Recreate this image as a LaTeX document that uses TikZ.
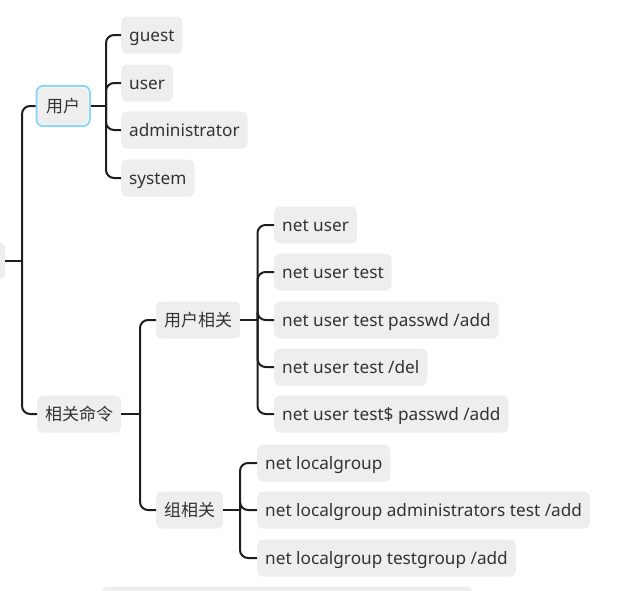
\documentclass[tikz,border=0pt]{standalone}
\usepackage{fontspec}
\setmainfont{Noto Sans}
\newfontfamily\cjk{Noto Sans CJK SC}
\usetikzlibrary{fit}
\definecolor{boxgray}{HTML}{EEEEEE}
\definecolor{linecol}{HTML}{1E1E1E}
\definecolor{txtcol}{HTML}{333333}
\definecolor{selblue}{HTML}{8ED5F8}
\tikzset{
  topic/.style={fill=boxgray, rounded corners=6pt, anchor=west, inner xsep=8pt, inner ysep=0pt,
    minimum height=37pt, text height=16pt, text depth=3pt, text=txtcol, font=\fontsize{17.2}{20}\selectfont},
  cjktopic/.style={topic, font=\cjk\fontsize{17}{20}\selectfont},
  conn/.style={draw=linecol, line width=2pt},
  branch/.style={conn, rounded corners=8pt},
}
\begin{document}
\begin{tikzpicture}[x=1pt,y=-1pt]
\useasboundingbox (0,0) rectangle (635,590);
% partially visible nodes at the edges
\node[topic, minimum width=80pt] (root) at (-75,261) {};
\node[topic, minimum width=370pt] (cut) at (102,605) {};
% level 1
\node[cjktopic] (yonghu) at (38,106) {用户};
\node[fit=(yonghu), inner sep=1.5pt, draw=selblue, line width=2pt, rounded corners=7pt] (yonghusel) {};
\node[cjktopic] (xgml) at (37,414) {相关命令};
% users
\node[topic] (guest) at (121,35) {guest};
\node[topic] (user) at (121,83) {user};
\node[topic] (admin) at (121,130) {administrator};
\node[topic] (system) at (121,178) {system};
% command groups
\node[cjktopic] (yhxg) at (156,320) {用户相关};
\node[cjktopic] (zxg) at (156,510) {组相关};
\node[topic] (c1) at (274,225) {net user};
\node[topic] (c2) at (274,272) {net user test};
\node[topic] (c3) at (274,320) {net user test passwd /add};
\node[topic] (c4) at (274,367) {net user test /del};
\node[topic] (c5) at (274,414) {net user test\$ passwd /add};
\node[topic] (g1) at (257,463) {net localgroup};
\node[topic] (g2) at (257,510) {net localgroup administrators test /add};
\node[topic] (g3) at (257,558) {net localgroup testgroup /add};
% junctions
\coordinate (t0) at (22,261);
\coordinate (t1) at (106,106);
\coordinate (t2) at (140,414);
\coordinate (t3) at (257.5,320);
\coordinate (t4) at (240,510);
% connectors
\draw[conn] (root.east) -- (t0);
\draw[branch] (t0) |- (yonghusel.west);
\draw[branch] (t0) |- (xgml.west);
\draw[conn] (yonghusel.east) -- (t1);
\foreach \n in {guest,user,admin,system} \draw[branch] (t1) |- (\n.west);
\draw[conn] (xgml.east) -- (t2);
\draw[branch] (t2) |- (yhxg.west);
\draw[branch] (t2) |- (zxg.west);
\draw[conn] (yhxg.east) -- (t3);
\foreach \n in {c1,c2,c3,c4,c5} \draw[branch] (t3) |- (\n.west);
\draw[conn] (zxg.east) -- (t4);
\foreach \n in {g1,g2,g3} \draw[branch] (t4) |- (\n.west);
\end{tikzpicture}
\end{document}
